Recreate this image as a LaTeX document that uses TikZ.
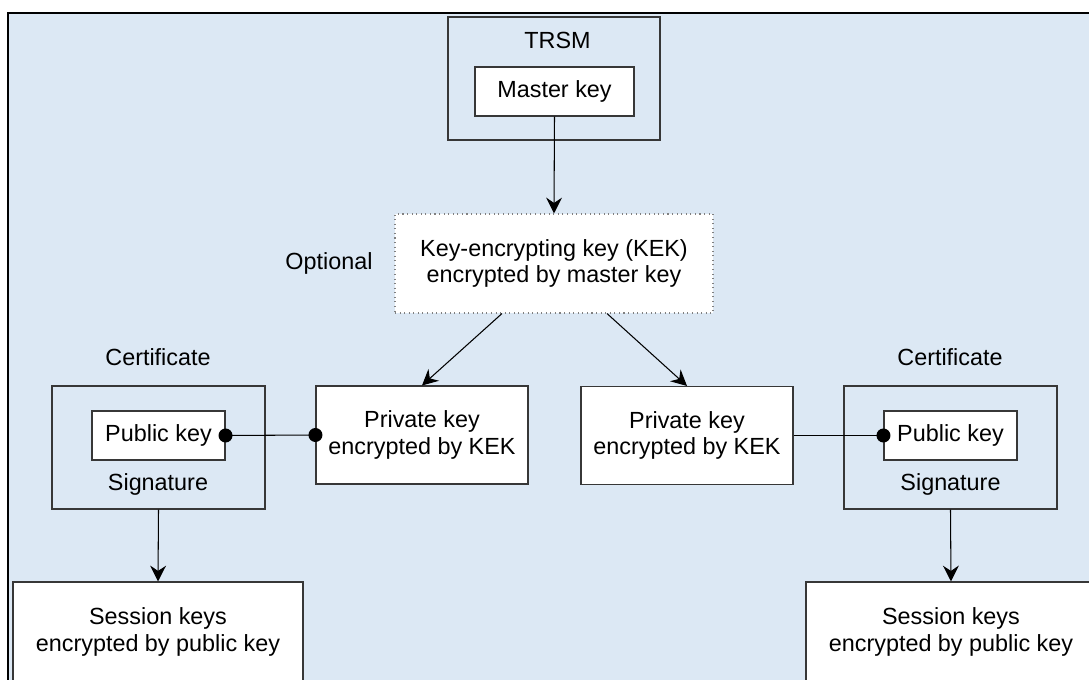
\documentclass[tikz,border=0pt]{standalone}
\usepackage{fontspec}
\setmainfont{Liberation Sans}
\usetikzlibrary{arrows.meta}
\definecolor{panelblue}{RGB}{220,232,244}
\definecolor{boxline}{RGB}{55,55,55}
\tikzset{
  keybox/.style={draw=boxline,fill=white,line width=0.6pt,align=center,inner sep=0pt},
  holder/.style={draw=boxline,line width=0.6pt,inner sep=0pt},
  lbl/.style={inner sep=0pt},
  arr/.style={-{Stealth[length=9pt,width=9pt,inset=3pt]},line width=0.6pt},
  keydot/.style={circle,fill=black,inner sep=0pt,minimum size=0.28cm},
}
\begin{document}
\begin{tikzpicture}[font=\fontsize{13.3}{15.3}\selectfont]
        \useasboundingbox (0,0) rectangle (21.78,-13.6);
        \clip (0,0) rectangle (21.78,-13.6);
        %% Panel
        \draw[line width=1.4pt,fill=panelblue] (0.16,-0.26) rectangle (23,-15);
        %% TRSM
        \node[holder,minimum width=4.24cm,minimum height=2.46cm] (trsm) at (11.08,-1.57) {};
        \node[lbl] (trsmlbl) at (11.15,-0.80) {TRSM};
        \node[keybox,minimum width=3.18cm,minimum height=0.98cm] (master) at (11.09,-1.83) {Master key};
        %% KEK
        \node[keybox,draw=gray,dotted,minimum width=6.36cm,minimum height=1.98cm] (kek) at (11.08,-5.27) {Key-encrypting key (KEK)\\encrypted by master key};
        \node[lbl] (optional) at (6.58,-5.26) {Optional};
        %% Private keys
        \node[keybox,minimum width=4.24cm,minimum height=1.96cm] (privl) at (8.44,-8.70) {Private key\\encrypted by KEK};
        \node[keybox,minimum width=4.24cm,minimum height=1.96cm] (privr) at (13.74,-8.71) {Private key\\encrypted by KEK};
        %% Certificates
        \node[holder,minimum width=4.26cm,minimum height=2.46cm] (certl) at (3.17,-8.95) {};
        \node[holder,minimum width=4.26cm,minimum height=2.46cm] (certr) at (19.01,-8.95) {};
        \node[lbl] (certllbl) at (3.16,-7.14) {Certificate};
        \node[lbl] (certrlbl) at (19.00,-7.14) {Certificate};
        \node[keybox,minimum width=2.66cm,minimum height=0.98cm] (publ) at (3.17,-8.71) {Public key};
        \node[keybox,minimum width=2.66cm,minimum height=0.98cm] (pubr) at (19.01,-8.71) {Public key};
        \node[lbl] (sigl) at (3.16,-9.68) {Signature};
        \node[lbl] (sigr) at (19.01,-9.68) {Signature};
        %% Session keys
        \node[keybox,minimum width=5.8cm,minimum height=2.0cm] (sessl) at (3.16,-12.64) {Session keys\\encrypted by public key};
        \node[keybox,minimum width=5.8cm,minimum height=2.0cm] (sessr) at (19.02,-12.64) {Session keys\\encrypted by public key};
        %% Connectors
        \draw[arr] (master.south) -- (kek.north);
        \draw[arr] ([xshift=-1.04cm]kek.south) -- (privl.north);
        \draw[arr] ([xshift=1.06cm]kek.south) -- (privr.north);
        \draw[line width=0.6pt] (publ.east) -- (privl.west);
        \draw[line width=0.6pt] (privr.east) -- (pubr.west);
        \node[keydot] (dotpl) at (publ.east) {};
        \node[keydot] (dotkl) at (privl.west) {};
        \node[keydot] (dotpr) at (pubr.west) {};
        \draw[arr] (certl.south) -- (sessl.north);
        \draw[arr] (certr.south) -- (sessr.north);
\end{tikzpicture}
\end{document}
